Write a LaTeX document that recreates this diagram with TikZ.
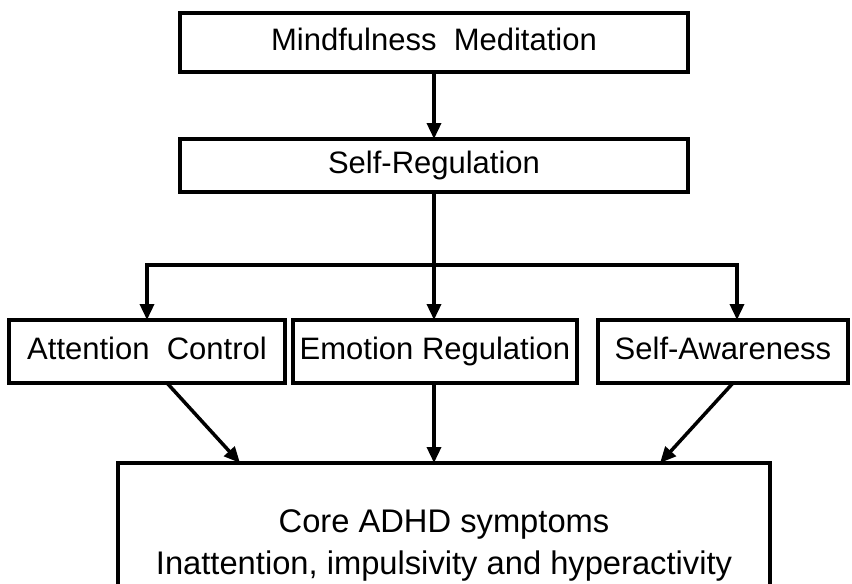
\documentclass[tikz,border=0pt]{standalone}
\usepackage{fontspec}
\setmainfont{Liberation Sans}
\usetikzlibrary{arrows.meta,positioning}

\begin{document}
\begin{tikzpicture}[
      x=1pt, y=-1pt,
      mybox/.style={
         draw=black,
         line width=3.5pt,
         fill=white,
         inner sep=0pt,
         outer sep=0pt,
         minimum height=59pt,
         text height=22pt,
         text depth=6pt,
         font=\fontsize{31}{37}\selectfont},
      myarrow/.style={-{Triangle[length=16pt,width=14pt]}, line width=3.5pt},
      node distance=67pt and 8pt
      ]
      \useasboundingbox (0,0) rectangle (852,584);

      \node[mybox, minimum width=508pt] (mm) at (434,42.5) {Mindfulness\ \ Meditation};
      \node[mybox, minimum width=508pt, minimum height=53pt, below=of mm] (sr) {Self-Regulation};

      % middle row
      \node[mybox, minimum width=284pt, minimum height=63pt] (er) at (435,351.5) {Emotion\ Regulation};
      \node[mybox, minimum width=276pt, minimum height=63pt, left=of er] (ac) {Attention\ \ Control};
      \node[mybox, minimum width=250pt, minimum height=63pt, right=21pt of er] (sa) {Self-Awareness};

      \node[mybox, minimum width=652pt, minimum height=164pt, align=center,
            text height=, text depth=,
            font=\fontsize{32.7}{42}\selectfont] (core) at (444,545)
            {Core ADHD symptoms\\Inattention, impulsivity and hyperactivity};

      \coordinate (split) at (sr.south |- 0,265);
      \coordinate (lsplit) at (147,265);
      \coordinate (rsplit) at (737,265);

      \draw[myarrow] (mm) -- (sr);
      \draw[line width=3.5pt] (sr) -- (split);
      \draw[line width=3.5pt, line cap=rect] (lsplit) -- (rsplit);
      \draw[myarrow] (lsplit) -- (lsplit |- ac.north);
      \draw[myarrow] (split) -- (split |- er.north);
      \draw[myarrow] (rsplit) -- (rsplit |- sa.north);

      \draw[myarrow] (ac.south -| 167,0) -- (core.north -| 240,0);
      \draw[myarrow] (er.south -| 434,0) -- (core.north -| 434,0);
      \draw[myarrow] (sa.south -| 733,0) -- (core.north -| 660,0);
\end{tikzpicture}
\end{document}
